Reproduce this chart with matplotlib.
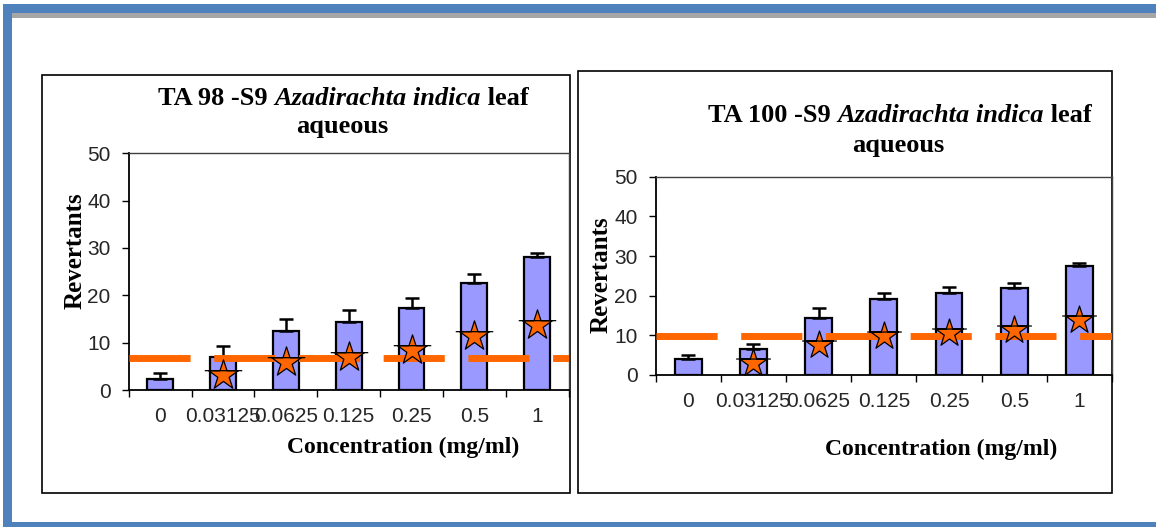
import numpy as np
import matplotlib
matplotlib.use("Agg")
import matplotlib.pyplot as plt
from matplotlib.patches import Rectangle
from matplotlib.path import Path

# ---------------- data ----------------
categories = ["0", "0.03125", "0.0625", "0.125", "0.25", "0.5", "1"]

ta98_means = [2.4, 7.0, 12.4, 14.3, 17.3, 22.7, 28.2]
ta98_err = [1.1, 2.3, 2.5, 2.6, 2.2, 1.7, 0.8]
ta98_stars = [None, 3.2, 6.0, 7.0, 8.4, 11.4, 13.7]
ta98_threshold = 6.7

ta100_means = [4.0, 6.6, 14.3, 19.2, 20.6, 22.0, 27.6]
ta100_err = [1.0, 1.3, 2.5, 1.6, 1.5, 1.1, 0.6]
ta100_stars = [None, 3.0, 7.6, 9.8, 10.5, 11.3, 13.9]
ta100_threshold = 9.8

yticks = [0, 10, 20, 30, 40, 50]

# ---------------- figure ----------------
W, H = 1156, 527
DPI = 100
plt.rcParams['lines.scale_dashes'] = False
fig = plt.figure(figsize=(W / DPI, H / DPI), dpi=DPI)
fig.patch.set_facecolor('white')

SANS = 'Liberation Sans'
SERIF = 'Liberation Serif'


def fx(px):
    return px / W


def fy(py):
    return 1 - py / H


def rect_px(x0, y0, x1, y1, **kw):
    r = Rectangle((fx(x0), fy(y1)), fx(x1) - fx(x0), fy(y0) - fy(y1),
                  transform=fig.transFigure, **kw)
    fig.patches.append(r)
    return r


# outer blue frame
BLUE = '#4F81BD'
rect_px(3, 4, W, 13.3, facecolor=BLUE, edgecolor='none')
rect_px(11.7, 13.3, W, 18.3, facecolor='#A6A6A6', edgecolor='none')
rect_px(3.3, 4, 11.7, 527, facecolor=BLUE, edgecolor='none')
rect_px(3.3, 521.7, W, 527, facecolor=BLUE, edgecolor='none')

# panel boxes
rect_px(42.3, 74.7, 569.6, 492.7, facecolor='none', edgecolor='black', linewidth=1.2)
rect_px(577.8, 70.7, 1111.7, 492.7, facecolor='none', edgecolor='black', linewidth=1.2)

# star marker with horizontal line (Excel style)
star = Path.unit_regular_star(5, 0.381966)
sv = list(star.vertices)
sc = list(star.codes)
line_y = np.sin(np.deg2rad(18))
sv += [(-1.2, line_y), (1.2, line_y)]
sc += [Path.MOVETO, Path.LINETO]
STAR_MARKER = Path(np.array(sv), np.array(sc, dtype=np.uint8))

ORANGE = '#FF6600'
BARC = '#9999FF'


def panel(ax_px, means, err, stars, thr, star_ms):
    x0, x1, ytop, ybot = ax_px
    ax = fig.add_axes([fx(x0), fy(ybot), fx(x1) - fx(x0), fy(ytop) - fy(ybot)])
    ax.set_zorder(3)
    ax.set_facecolor('none')
    x = np.arange(len(categories))
    ax.bar(x, means, width=0.41, color=BARC, edgecolor='black', linewidth=1.6, zorder=2)
    ax.errorbar(x, means, yerr=[np.zeros(len(err)), err], fmt='none', ecolor='black',
                elinewidth=1.8, capsize=4.7, capthick=1.8, zorder=3)
    ax.axhline(thr, color=ORANGE, linewidth=5.0, linestyle=(0, (44, 17)),
               solid_capstyle='butt', dash_capstyle='butt', zorder=4)
    sx = [i for i, v in enumerate(stars) if v is not None]
    sy = [v for v in stars if v is not None]
    ax.plot(sx, sy, linestyle='none', marker=STAR_MARKER, markersize=star_ms,
            markerfacecolor=ORANGE, markeredgecolor='black', markeredgewidth=0.9, zorder=5)
    ax.set_xlim(-0.5, len(categories) - 0.5)
    ax.set_ylim(0, 50)
    ax.set_yticks(yticks)
    ax.set_xticks(x)
    ax.set_xticklabels(categories)
    ax.set_xticks(np.arange(len(categories) + 1) - 0.5, minor=True)
    ax.tick_params(axis='x', which='major', length=0, pad=12, labelsize=15, labelcolor='#262626')
    ax.tick_params(axis='x', which='minor', length=5, width=1.0, direction='out', color='black')
    ax.tick_params(axis='y', length=5, width=1.0, direction='out', pad=8, labelsize=15,
                   labelcolor='#262626')
    for lab in ax.get_xticklabels() + ax.get_yticklabels():
        lab.set_fontfamily(SANS)
    for s in ['left', 'bottom']:
        ax.spines[s].set_color('black')
        ax.spines[s].set_linewidth(1.3)
    for s in ['top', 'right']:
        ax.spines[s].set_color('#404040')
        ax.spines[s].set_linewidth(1.0)
    return ax


ax1 = panel((128.8, 568.6, 153.3, 390.0), ta98_means, ta98_err, ta98_stars, ta98_threshold, 27)
ax2 = panel((655.6, 1112.0, 176.7, 375.0), ta100_means, ta100_err, ta100_stars, ta100_threshold, 25)

renderer = fig.canvas.get_renderer()


def rich_line(pieces, cx, base_y, size):
    texts, widths = [], []
    for s, st in pieces:
        t = fig.text(0, 0, s, fontsize=size, fontweight='bold', fontstyle=st,
                     family=SERIF, va='baseline', ha='left')
        widths.append(t.get_window_extent(renderer).width)
        texts.append(t)
    total = sum(widths)
    xx = cx - total / 2
    for t, w in zip(texts, widths):
        t.set_position((fx(xx), fy(base_y)))
        xx += w


TS = 19
rich_line([("TA 98 -S9 ", 'normal'), ("Azadirachta indica", 'italic'), (" leaf", 'normal')],
          343.5, 105, TS)
rich_line([("aqueous", 'normal')], 342.5, 133.3, TS)
rich_line([("TA 100 -S9 ", 'normal'), ("Azadirachta indica", 'italic'), (" leaf", 'normal')],
          899.5, 121.7, TS)
rich_line([("aqueous", 'normal')], 898, 151.7, TS)

LS = 17
fig.text(fx(403), fy(452.7), "Concentration (mg/ml)", fontsize=LS, fontweight='bold',
         family=SERIF, ha='center', va='baseline')
fig.text(fx(941), fy(455), "Concentration (mg/ml)", fontsize=LS, fontweight='bold',
         family=SERIF, ha='center', va='baseline')
fig.text(fx(75), fy(251), "Revertants", fontsize=18, fontweight='bold', family=SERIF,
         ha='center', va='center', rotation=90)
fig.text(fx(601), fy(275), "Revertants", fontsize=18, fontweight='bold', family=SERIF,
         ha='center', va='center', rotation=90)

fig.savefig("out.png", dpi=DPI, facecolor='white')
